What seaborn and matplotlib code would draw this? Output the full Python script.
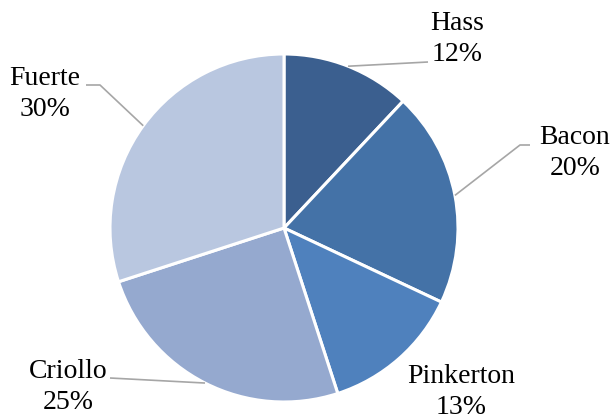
import numpy as np
import matplotlib
matplotlib.use("Agg")
import matplotlib.pyplot as plt
import seaborn as sns

# Avocado varieties and their share (%)
varieties = ["Hass", "Bacon", "Pinkerton", "Criollo", "Fuerte"]
shares = [12, 20, 13, 25, 30]
colors = ["#3b5f8f", "#4472a7", "#4f81bd", "#95a9cf", "#b9c7e0"]

sns.set_theme(style="white")
plt.rcParams["font.family"] = "serif"
plt.rcParams["font.serif"] = ["Liberation Serif", "Times New Roman", "DejaVu Serif"]

W, H = 611, 420
fig = plt.figure(figsize=(W / 100, H / 100), dpi=100)
ax = fig.add_axes([0, 0, 1, 1])

cx, cy, R = 284, 192, 174
wedges, _ = ax.pie(
    shares, colors=colors, startangle=90, counterclock=False,
    center=(cx, cy), radius=R,
    wedgeprops=dict(edgecolor="white", linewidth=2.2),
)
ax.set_xlim(0, W)
ax.set_ylim(0, H)
ax.set_aspect("equal")
ax.axis("off")

# label placement: text centre and leader-line path (None = no leader)
label_pos = {
    "Hass": ((457, 381), [(428, 358)]),
    "Bacon": ((575, 267), [(520, 275), (530, 275)]),
    "Pinkerton": ((461, 28), None),
    "Criollo": ((68, 33), [(110, 42)]),
    "Fuerte": ((45, 326), [(100, 335), (86, 335)]),
}

for w, name, val in zip(wedges, varieties, shares):
    (tx, ty), path = label_pos[name]
    ax.text(tx, ty, f"{name}\n{val}%", ha="center", va="center",
            fontsize=20, color="black", linespacing=1.3)
    if path:
        ang = np.deg2rad((w.theta1 + w.theta2) / 2)
        start = (cx + R * np.cos(ang), cy + R * np.sin(ang))
        pts = [start] + path
        xs, ys = zip(*pts)
        ax.plot(xs, ys, color="#a6a6a6", lw=1.2, solid_capstyle="butt")

fig.savefig("out.png", dpi=100, facecolor="white")
